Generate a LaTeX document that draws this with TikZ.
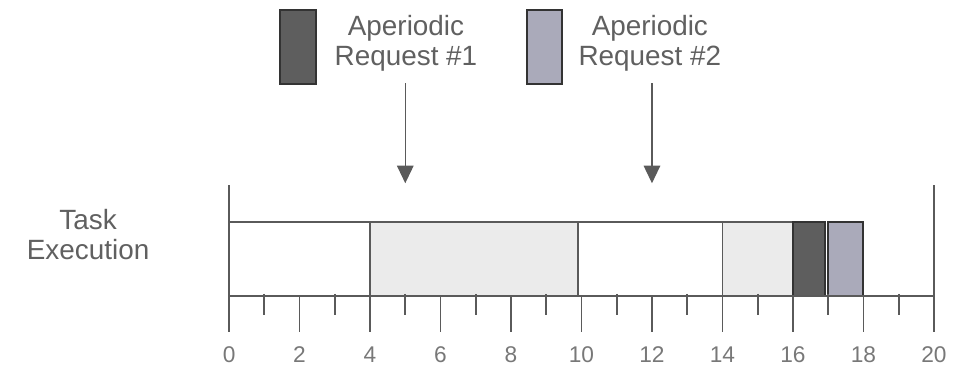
\documentclass[tikz,border=0pt]{standalone}
\usepackage{fontspec}
\setmainfont{Liberation Sans}
\usepackage{tikz}
\usetikzlibrary{arrows.meta, positioning}
\definecolor{axisgray}{HTML}{5A5A5A}
\definecolor{textgray}{HTML}{606060}
\definecolor{busyfill}{HTML}{EBEBEB}
\definecolor{reqone}{HTML}{5E5E5E}
\definecolor{reqtwo}{HTML}{AAAABA}

\begin{document}
\begin{tikzpicture}[x=0.6cm, y=0.6cm, every node/.style={font=\fontsize{13.5}{14.5}\selectfont, text=textgray}]
\tikzstyle{bar} = [draw=axisgray, line width=0.9pt]
\tikzstyle{reqbox} = [draw=black!80, line width=1pt]
\tikzstyle{request} = [-{Triangle[width=8pt, length=8.5pt]}, draw=axisgray, line width=0.6pt]
\tikzstyle{label} = [align=center, inner sep=0pt]
\tikzstyle{tick} = [font=\fontsize{11}{12}\selectfont, text=textgray!85, inner sep=0pt]

\useasboundingbox (-6.50,-2.156) rectangle (20.57,8.40);

% Legend
\draw[reqbox, fill=reqone] (1.45,6.01) rectangle (2.47,8.11);
\node[label] (req1) at (5.02,7.17) {Aperiodic\\Request \#1};
\draw[reqbox, fill=reqtwo] (8.45,6.01) rectangle (9.45,8.11);
\node[label] (req2) at (11.94,7.17) {Aperiodic\\Request \#2};

\node[label] (task) at (-4.0,1.75) {Task\\Execution};

% Execution bar
\draw[bar] (0,0) rectangle (4,2.1);
\draw[bar, fill=busyfill] (4,0) rectangle (9.9,2.1);
\draw[bar] (9.9,0) rectangle (14,2.1);
\draw[bar, fill=busyfill] (14,0) rectangle (16,2.1);
\draw[reqbox, fill=reqone] (16,0) rectangle (16.9,2.1);
\draw[reqbox, fill=reqtwo] (17,0) rectangle (18,2.1);

% Time axis
\draw[bar] (0,3.15) -- (0,-1.02);
\draw[bar] (20,3.15) -- (20,-1.02);
\draw[bar] (0,0) -- (20,0);
\foreach \t in {2,4,...,18}
  \draw[bar] (\t,0) -- (\t,-1.02);
\foreach \t in {1,3,...,19}
  \draw[bar] (\t,0.06) -- (\t,-0.54);
\foreach \t in {0,2,...,20}
  \node[tick] (t\t) at (\t,-1.67) {\t};

% Arrows
\coordinate (a1) at (5,6.04);
\coordinate (h1) at (5,3.2);
\coordinate (a2) at (12,6.04);
\coordinate (h2) at (12,3.2);
\draw[request] (a1) -- (h1);
\draw[request] (a2) -- (h2);

\end{tikzpicture}
\end{document}
